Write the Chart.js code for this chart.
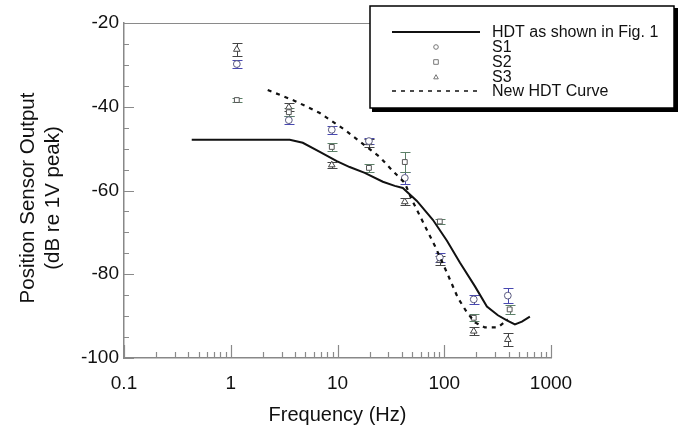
<!DOCTYPE html>
<html><head><meta charset="utf-8">
<script src="https://cdn.jsdelivr.net/npm/chart.js@4.4.1/dist/chart.umd.min.js"></script>
<style>html,body{margin:0;padding:0;background:#fff}#wrap{width:684px;height:430px;position:relative}</style>
</head><body><div id="wrap"><canvas id="c" width="684" height="430"></canvas></div>
<script>
// ---- data ----
const hdtFreq = [0.431, 3.57, 4.73, 6.83, 9.85, 13.0, 18.0, 26.6, 34.4, 40.9, 55.4, 78.2, 106, 140, 194, 251, 318, 386, 459, 534, 634];
const hdtDb   = [-47.9, -47.9, -48.6, -50.8, -53.0, -54.4, -55.8, -57.9, -58.9, -59.4, -62.5, -67.0, -72.0, -77.2, -82.9, -87.7, -89.8, -91.0, -92.0, -91.3, -90.1];
const newFreq = [2.22, 3.98, 6.83, 11.7, 18.8, 24.9, 32.3, 42.7, 49.7, 61.7, 81.6, 108, 134, 163, 194, 240, 318, 394];
const newDb   = [-36.0, -38.6, -41.5, -45.5, -49.6, -52.0, -55.1, -58.2, -62.2, -67.0, -73.2, -80.1, -85.6, -89.1, -91.5, -92.7, -92.7, -90.8];
const s1Freq = [1.14, 3.5, 8.84, 19.7, 42.7, 90.9, 189, 394];
const s1Db   = [-29.8, -43.2, -45.5, -48.2, -57.0, -76.0, -86.0, -85.1];
const s1Err  = [1.0, 1.0, 1.0, 0.8, 1.5, 1.0, 1.0, 1.8];
const s2Freq = [1.14, 3.5, 8.84, 19.7, 42.7, 90.9, 189, 410];
const s2Db   = [-38.4, -41.3, -49.6, -54.6, -53.2, -67.4, -90.4, -88.4];
const s2Err  = [0.5, 1.0, 1.0, 1.0, 2.5, 0.6, 0.8, 1.0];
const s3Freq = [1.14, 3.5, 8.84, 19.7, 42.7, 90.9, 189, 394];
const s3Db   = [-26.3, -40.1, -53.9, -48.6, -62.7, -76.7, -93.6, -95.6];
const s3Err  = [1.5, 1.0, 0.7, 1.0, 0.8, 1.0, 1.0, 1.5];
const xTickValues = [0.1, 1, 10, 100, 1000];
const xTickLabels = ['0.1', '1', '10', '100', '1000'];
const yTickValues = [-100, -80, -60, -40, -20];
const yTickLabels = ['-100', '-80', '-60', '-40', '-20'];
const yTitleLines = ['Position Sensor Output', '(dB re 1V peak)'];
const legendLabels = ['HDT as shown in Fig. 1', 'S1', 'S2', 'S3', 'New HDT Curve'];

const FONT = "'Liberation Sans', Arial, sans-serif";
Chart.defaults.font.family = FONT;
const pts = (fx, fy) => fx.map((f, i) => ({x: f, y: fy[i]}));

const errPlugin = {
  id: 'err',
  beforeDatasetsDraw(chart) {
    const {ctx, scales: {x, y}} = chart;
    chart.data.datasets.forEach(ds => {
      if (!ds.errors) return;
      ctx.save(); ctx.strokeStyle = ds.errColor; ctx.lineWidth = 1;
      ds.data.forEach((p, j) => {
        const px = Math.round(x.getPixelForValue(p.x)) + 0.5;
        const y1 = Math.round(y.getPixelForValue(p.y + ds.errors[j])) + 0.5;
        const y2 = Math.round(y.getPixelForValue(p.y - ds.errors[j])) + 0.5;
        ctx.beginPath();
        ctx.moveTo(px, y1); ctx.lineTo(px, y2);
        ctx.moveTo(px - 5, y1); ctx.lineTo(px + 5, y1);
        ctx.moveTo(px - 5, y2); ctx.lineTo(px + 5, y2);
        ctx.stroke();
      });
      ctx.restore();
    });
  }
};

const tickPlugin = {
  id: 'inticks',
  afterDatasetsDraw(chart) {
    const {ctx, chartArea: a, scales: {x, y}} = chart;
    ctx.save(); ctx.strokeStyle = '#8a8a8a'; ctx.lineWidth = 1.2;
    ctx.beginPath();
    for (let v = -100; v <= -20; v += 5) {
      const py = Math.round(y.getPixelForValue(v)) + 0.5;
      const len = (v % 20 === 0) ? 10 : 5;
      ctx.moveTo(a.left, py); ctx.lineTo(a.left + len, py);
    }
    for (let d = 0.1; d < 1000; d *= 10) {
      for (let m = 1; m <= 10; m++) {
        const v = d * m;
        const px = Math.round(x.getPixelForValue(v)) + 0.5;
        const len = (m === 1 || m === 10) ? 13 : 6;
        ctx.moveTo(px, a.bottom); ctx.lineTo(px, a.bottom - len);
      }
    }
    ctx.moveTo(a.left, a.top + 0.5); ctx.lineTo(a.right, a.top + 0.5);
    ctx.stroke();
    ctx.restore();
    // y axis title
    ctx.save();
    ctx.fillStyle = '#111'; ctx.font = '20.5px ' + FONT;
    ctx.textAlign = 'center'; ctx.textBaseline = 'middle';
    ctx.translate(28, 198); ctx.rotate(-Math.PI / 2);
    ctx.fillText(yTitleLines[0], 0, 0);
    ctx.fillText(yTitleLines[1], 0, 25);
    ctx.restore();
  }
};

function drawMarker(ctx, style, cx, cy, r) {
  ctx.beginPath();
  if (style === 'circle') ctx.arc(cx, cy, r, 0, Math.PI * 2);
  else if (style === 'rect') ctx.rect(cx - r, cy - r, 2 * r, 2 * r);
  else { ctx.moveTo(cx, cy - r); ctx.lineTo(cx + r, cy + r * 0.8); ctx.lineTo(cx - r, cy + r * 0.8); ctx.closePath(); }
  ctx.fillStyle = '#fff'; ctx.fill(); ctx.stroke();
}

const legendPlugin = {
  id: 'boxlegend',
  afterDraw(chart) {
    const ctx = chart.ctx;
    const L = 370, T = 6, R = 674, B = 108;
    ctx.save();
    ctx.fillStyle = '#fff'; ctx.fillRect(L, T, R - L, B - T);
    ctx.fillStyle = '#000';
    ctx.fillRect(R, T + 2, 4, B - T + 2);
    ctx.fillRect(L + 2, B, R - L + 2, 4);
    ctx.strokeStyle = '#000'; ctx.lineWidth = 1.5; ctx.strokeRect(L, T, R - L, B - T);
    const rows = [32, 47, 62, 77, 91];
    const kinds = ['line', 'circle', 'rect', 'triangle', 'dash'];
    ctx.font = '16px ' + FONT; ctx.textBaseline = 'middle'; ctx.textAlign = 'left';
    legendLabels.forEach((lab, i) => {
      const yy = rows[i];
      ctx.strokeStyle = '#111'; ctx.setLineDash([]);
      if (kinds[i] === 'line') { ctx.lineWidth = 2; ctx.beginPath(); ctx.moveTo(392, yy); ctx.lineTo(480, yy); ctx.stroke(); }
      else if (kinds[i] === 'dash') { ctx.lineWidth = 1.5; ctx.setLineDash([4, 5]); ctx.beginPath(); ctx.moveTo(392, yy); ctx.lineTo(480, yy); ctx.stroke(); ctx.setLineDash([]); }
      else { ctx.lineWidth = 1; ctx.strokeStyle = '#777'; drawMarker(ctx, kinds[i], 436, yy, 2.3); }
      ctx.fillStyle = '#111'; ctx.fillText(lab, 492, yy + 1);
    });
    ctx.restore();
  }
};

new Chart(document.getElementById('c'), {
  type: 'scatter',
  data: {datasets: [
    {label: legendLabels[0], data: pts(hdtFreq, hdtDb), showLine: true, borderColor: '#111', borderWidth: 2, pointRadius: 0, fill: false, tension: 0},
    {label: legendLabels[4], data: pts(newFreq, newDb), showLine: true, borderColor: '#111', borderWidth: 2.2, borderDash: [4, 5], pointRadius: 0, fill: false, tension: 0},
    {label: legendLabels[1], data: pts(s1Freq, s1Db), showLine: false, pointStyle: 'circle', pointRadius: 3.4, borderColor: '#5a5a80', backgroundColor: '#fff', borderWidth: 1, errors: s1Err, errColor: '#4848b0'},
    {label: legendLabels[2], data: pts(s2Freq, s2Db), showLine: false, pointStyle: 'rect', pointRadius: 3.4, borderColor: '#555', backgroundColor: '#fff', borderWidth: 1, errors: s2Err, errColor: '#5c8068'},
    {label: legendLabels[3], data: pts(s3Freq, s3Db), showLine: false, pointStyle: 'triangle', pointRadius: 3.8, borderColor: '#444', backgroundColor: '#fff', borderWidth: 1, errors: s3Err, errColor: '#444'}
  ]},
  options: {
    animation: false, responsive: false, devicePixelRatio: 1,
    layout: {padding: {left: 0, right: 133, top: 23, bottom: 0}},
    plugins: {legend: {display: false}, tooltip: {enabled: false}},
    scales: {
      x: {
        type: 'logarithmic', min: 0.1, max: 1000,
        afterFit(s) { s.height = 72; },
        afterBuildTicks(s) { s.ticks = xTickValues.map(v => ({value: v})); },
        ticks: {callback: (v, i) => xTickLabels[i], font: {size: 19}, color: '#111', padding: 14, autoSkip: false, maxRotation: 0},
        grid: {display: false, drawTicks: false},
        border: {display: true, color: '#888', width: 1.5},
        title: {display: true, text: 'Frequency (Hz)', font: {size: 20}, color: '#111', padding: {top: 4, bottom: 3}}
      },
      y: {
        min: -100, max: -20,
        afterFit(s) { s.width = 124; },
        afterBuildTicks(s) { s.ticks = yTickValues.map(v => ({value: v})); },
        ticks: {callback: (v, i) => yTickLabels[i], font: {size: 19}, color: '#111', padding: 5, autoSkip: false},
        grid: {display: false, drawTicks: false},
        border: {display: true, color: '#888', width: 1.5},
        title: {display: false}
      }
    }
  },
  plugins: [errPlugin, tickPlugin, legendPlugin]
});
</script></body></html>
